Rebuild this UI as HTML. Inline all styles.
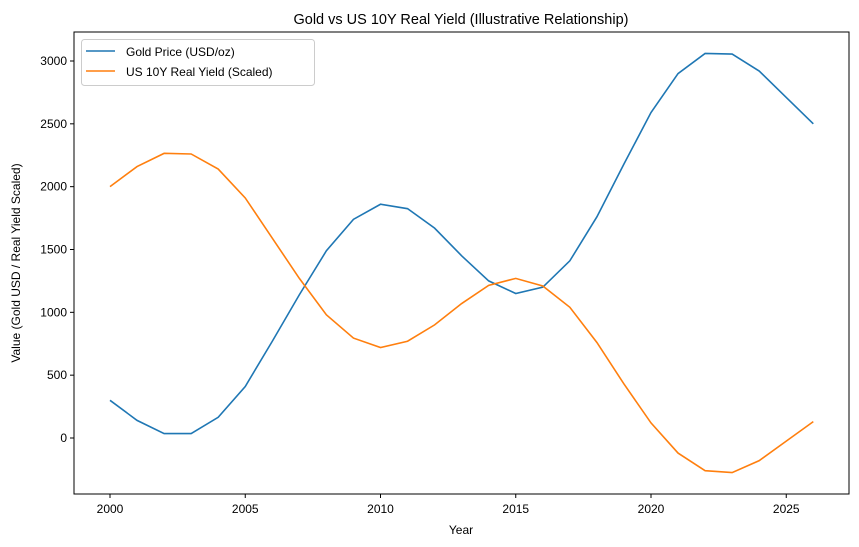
<!DOCTYPE html><html><head><style>body{margin:0;background:#fff}svg{display:block}text{font-family:"Liberation Sans",sans-serif;fill:#000}</style></head><body>
<svg width="859" height="547" viewBox="0 0 859 547">
<script>/* none */</script>
<g id="g"></g>
</svg>
<script>
const s=document.querySelector('svg');
const X=y=>110+(y-2000)*27.05, Y=v=>438-v*0.12567;
const gold=[300,140,35,35,165,410,770,1140,1490,1740,1860,1825,1670,1450,1250,1150,1200,1410,1760,2180,2590,2900,3060,3055,2920,2710,2500];
const yl=[2000,2160,2265,2260,2140,1910,1590,1270,980,795,720,770,900,1070,1215,1270,1210,1040,760,430,120,-120,-260,-275,-180,-25,130];
let h='<rect x="74" y="32" width="775" height="462" fill="none" stroke="#000" stroke-width="1"/>';
for(let y=2000;y<=2025;y+=5){let x=X(y);h+=`<line x1="${x}" y1="494" x2="${x}" y2="498" stroke="#000"/><text x="${x}" y="513" font-size="12" text-anchor="middle">${y}</text>`}
for(let v=0;v<=3000;v+=500){let y=Y(v);h+=`<line x1="70" y1="${y}" x2="74" y2="${y}" stroke="#000"/><text x="67" y="${y+4}" font-size="12" text-anchor="end">${v}</text>`}
const pl=(d,c)=>`<polyline fill="none" stroke="${c}" stroke-width="1.6" points="${d.map((v,i)=>X(2000+i)+','+Y(v)).join(' ')}"/>`;
h+=pl(gold,'#1f77b4')+pl(yl,'#ff7f0e');
h+='<text x="461" y="24" font-size="14.5" text-anchor="middle">Gold vs US 10Y Real Yield (Illustrative Relationship)</text>';
h+='<text x="461" y="534" font-size="12" text-anchor="middle">Year</text>';
h+='<text transform="translate(20,263) rotate(-90)" font-size="12" text-anchor="middle">Value (Gold USD / Real Yield Scaled)</text>';
h+='<rect x="81.5" y="39.5" width="233" height="46" rx="3" fill="#fff" stroke="#ccc"/>';
h+='<line x1="86" y1="51" x2="115" y2="51" stroke="#1f77b4" stroke-width="1.6"/><text x="126" y="56" font-size="12">Gold Price (USD/oz)</text>';
h+='<line x1="86" y1="71" x2="115" y2="71" stroke="#ff7f0e" stroke-width="1.6"/><text x="126" y="76" font-size="12">US 10Y Real Yield (Scaled)</text>';
document.getElementById('g').innerHTML=h;
</script></body></html>
